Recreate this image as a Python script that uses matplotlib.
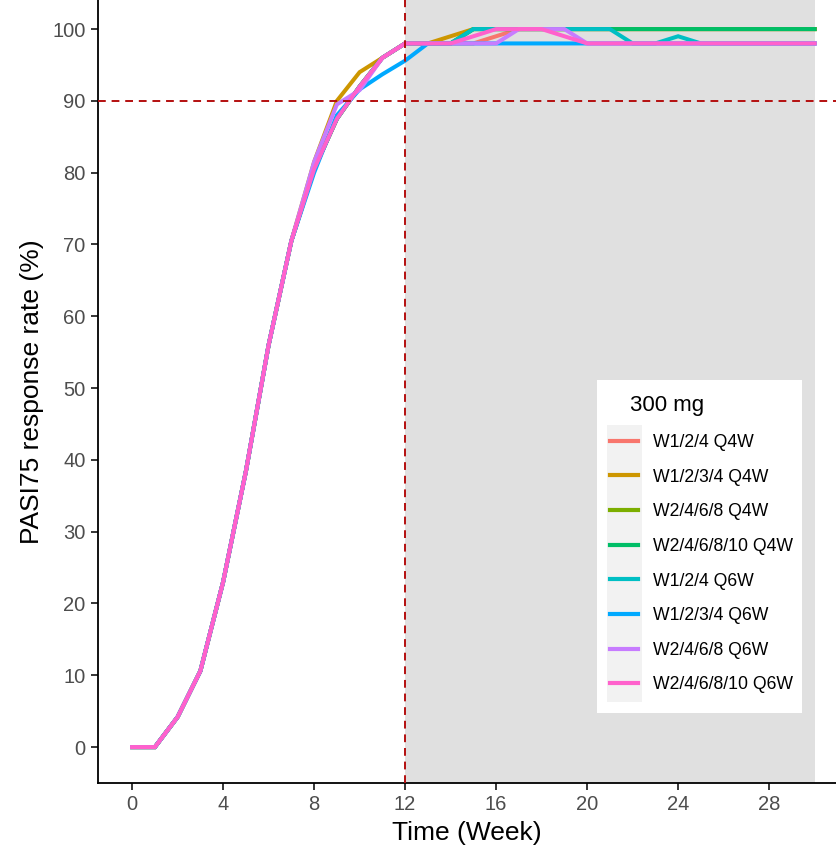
import numpy as np
import matplotlib.pyplot as plt
from matplotlib.patches import Rectangle

plt.rcParams['font.family'] = ['Liberation Sans', 'DejaVu Sans']

weeks = list(range(0, 31))

# PASI75 response rate (%) by week, 300 mg regimens
base = [0, 0, 4.2, 10.6, 23, 38.4, 56, 70.5, 80.5, 87.5, 92, 96, 98]

w124_q4w = base + [98, 98, 98, 99, 100] + [100] * 13
w1234_q4w = [0, 0, 4.2, 10.6, 23, 38.4, 56, 70.5, 81.5, 90, 94, 96, 98,
             98, 99, 100] + [100] * 15
w2468_q4w = base + [98, 98, 100] + [100] * 15
w246810_q4w = base + [98, 98, 100] + [100] * 15
w124_q6w = base + [98, 98, 100, 100, 100, 100, 100, 100, 100, 98, 98, 99] + [98] * 6
w1234_q6w = [0, 0, 4.2, 10.6, 23, 38.4, 56, 70.5, 80, 88, 91.6, 93.7, 95.6] + [98] * 18
w2468_q6w = [0, 0, 4.2, 10.6, 23, 38.4, 56, 70.5, 81.5, 89.5, 91.5, 96, 98,
             98, 98, 98, 98, 100, 100, 100] + [98] * 11
w246810_q6w = base + [98, 98, 99, 100, 100, 100, 99] + [98] * 11

series = [
    ("W1/2/4 Q4W", w124_q4w, "#F8766D"),
    ("W1/2/3/4 Q4W", w1234_q4w, "#CD9600"),
    ("W2/4/6/8 Q4W", w2468_q4w, "#7CAE00"),
    ("W2/4/6/8/10 Q4W", w246810_q4w, "#00BE67"),
    ("W1/2/4 Q6W", w124_q6w, "#00BFC4"),
    ("W1/2/3/4 Q6W", w1234_q6w, "#00A9FF"),
    ("W2/4/6/8 Q6W", w2468_q6w, "#C77CFF"),
    ("W2/4/6/8/10 Q6W", w246810_q6w, "#FF61CC"),
]

W, H = 836, 857
fig = plt.figure(figsize=(W / 100, H / 100), dpi=100)
ax = fig.add_axes([98 / W, 1 - 783 / H, 738 / W, 783 / H])

ax.axvspan(12, 30, color="#E0E0E0", lw=0, zorder=0)

for name, vals, col in series:
    ax.plot(weeks, vals, color=col, lw=2.9, label=name, zorder=2,
            solid_joinstyle="miter")

ax.axvline(12, color="#B40F0F", ls=(0, (4, 3)), lw=1.4, zorder=3)
ax.axhline(90, color="#B40F0F", ls=(0, (4, 3)), lw=1.4, zorder=3)

ax.set_xlim(-1.5, 30.94)
ax.set_ylim(-5, 104.05)
ax.set_xticks(range(0, 29, 4))
ax.set_yticks(range(0, 101, 10))
ax.spines['top'].set_visible(False)
ax.spines['right'].set_visible(False)
ax.spines['left'].set_linewidth(1.3)
ax.spines['bottom'].set_linewidth(1.3)
ax.tick_params(direction='out', length=5, width=1.1, labelsize=14.5,
               labelcolor="#4D4D4D", pad=4)
ax.set_xlabel("Time (Week)", fontsize=19, labelpad=5)
ax.set_ylabel("PASI75 response rate (%)", fontsize=19, labelpad=6)

# legend (no frame) placed at pixel position of the reference key column
leg = ax.legend(loc="upper left",
                bbox_to_anchor=((610 - 98) / 738, (783 - 434) / 783),
                fontsize=12.7, frameon=False, borderpad=0, borderaxespad=0,
                handlelength=1.6, labelspacing=1.0, handletextpad=0.85)
leg.set_zorder(6)
for line in leg.get_lines():
    line.set_linewidth(3)

fig.canvas.draw()
r = fig.canvas.get_renderer()
hb = [h.get_window_extent(r) for h in leg.get_lines()]
tb = [t.get_window_extent(r) for t in leg.get_texts()]

# white legend box
x0, y0 = 597, H - 713
ax.add_patch(Rectangle((x0, y0), 802 - x0, 713 - 380, transform=None,
                       facecolor="white", edgecolor="none", zorder=4,
                       clip_on=False))
# grey key column
row_h = (tb[0].y0 - tb[-1].y0) / (len(tb) - 1)
hx0 = min(b.x0 for b in hb) - 3
hx1 = max(b.x1 for b in hb) + 4
ky1 = (tb[0].y0 + tb[0].y1) / 2 + row_h / 2
ky0 = (tb[-1].y0 + tb[-1].y1) / 2 - row_h / 2
ax.add_patch(Rectangle((hx0, ky0), hx1 - hx0, ky1 - ky0, transform=None,
                       facecolor="#F2F2F2", edgecolor="none", zorder=5,
                       clip_on=False))
ax.text(630, H - 405, "300 mg", transform=None, fontsize=16,
        ha="left", va="center", zorder=7)

fig.savefig("out.png", dpi=100)
